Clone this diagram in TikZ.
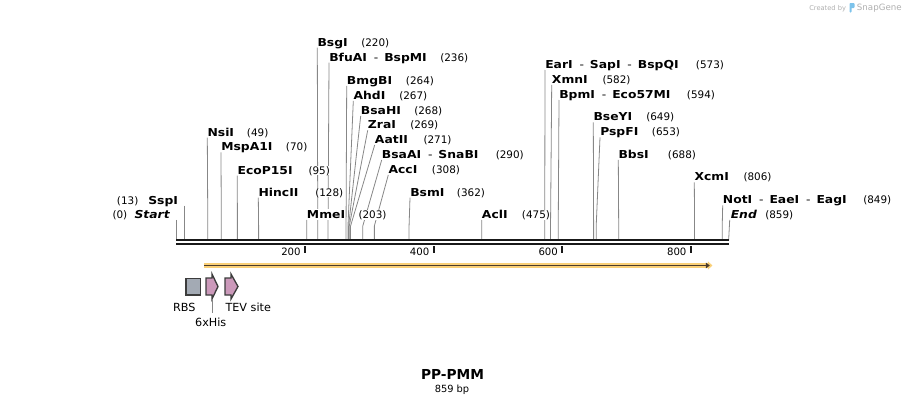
\documentclass[tikz,border=0pt]{standalone}
\usepackage{fontspec}
\setmainfont{DejaVu Sans}
\newfontfamily\enzfont{DejaVu Sans}[FakeStretch=1.13]
\usetikzlibrary{arrows.meta,backgrounds}
\definecolor{linegray}{RGB}{135,135,135}
\definecolor{orfband}{RGB}{250,208,120}
\definecolor{orfline}{RGB}{75,60,45}
\definecolor{rbsfill}{RGB}{163,170,180}
\definecolor{tagfill}{RGB}{203,153,186}
\definecolor{featedge}{RGB}{60,60,60}
\definecolor{snapblue}{RGB}{125,195,235}
\definecolor{creditgray}{RGB}{175,175,175}
\newcommand{\enzsep}{\hspace{0.62em}{\mdseries -}\hspace{0.55em}}

\begin{document}
\begin{tikzpicture}[x=0.75pt, y=-0.75pt,
    enzname/.style={font=\enzfont\bfseries\fontsize{8.2}{9}\selectfont, anchor=base west, inner xsep=0pt, inner ysep=1pt, text depth=0pt, fill=white},
    enzpos/.style={font=\fontsize{7.8}{9}\selectfont, anchor=base west, inner sep=0pt, fill=white},
    enzline/.style={draw=linegray, line width=0.6pt},
    backbone/.style={line width=1.5pt, black!90},
    scaletick/.style={line width=1.5pt, black!90},
    ticklabel/.style={font=\fontsize{7.6}{9}\selectfont, anchor=base east, inner sep=0pt},
    featlabel/.style={font=\fontsize{8.4}{10}\selectfont, inner sep=0pt},
    rbsbox/.style={draw=featedge, fill=rbsfill, line width=1pt, minimum width=11pt, minimum height=12.5pt, inner sep=0pt},
    tagarrow/.style={draw=featedge, fill=tagfill, line width=1pt, line join=miter}]
      \useasboundingbox (0,0) rectangle (906,405);

      \foreach \p in {0,13,49,70,95,128,203,220,236,264,267,268,269,271,290,308,362,475,573,582,594,649,653,688,806,849,859}
        \coordinate (c\p) at ({176.3+0.643*\p},240);
      \coordinate (bend) at (0,226);

      \draw[backbone] (c0) -- (c859);
      \draw[backbone] ([yshift=-3pt]c0) -- ([yshift=-3pt]c859);
      \foreach \t in {200,400,600,800} {
        \draw[scaletick] ({176.3+0.643*\t},246) -- ++(0,6.5);
        \node[ticklabel] (t\t) at ({176.3+0.643*\t-4},255.5) {\t};
      }

      \node[enzname, anchor=base east, font=\enzfont\bfseries\itshape\fontsize{8.2}{9}\selectfont] (start) at (170,218.3) {Start};
      \node[enzpos] (startpos) at (112.3,218.3) {(0)};
      \node[enzname, anchor=base east] (sspI) at (178.3,204) {SspI};
      \node[enzpos] (sspIpos) at (116.7,204) {(13)};
      \node[enzname] (nsiI) at (207.3,136) {NsiI};
      \node[enzpos] (nsiIpos) at (246.7,136) {(49)};
      \node[enzname] (mspA1I) at (221,150.7) {MspA1I};
      \node[enzpos] (mspA1Ipos) at (285.7,150.7) {(70)};
      \node[enzname] (ecoP15I) at (237.3,174) {EcoP15I};
      \node[enzpos] (ecoP15Ipos) at (308.3,174) {(95)};
      \node[enzname] (hincII) at (258.3,196) {HincII};
      \node[enzpos] (hincIIpos) at (315,196) {(128)};
      \node[enzname] (mmeI) at (306.7,218.3) {MmeI};
      \node[enzpos] (mmeIpos) at (358.3,218.3) {(203)};
      \node[enzname] (bsgI) at (317.3,46) {BsgI};
      \node[enzpos] (bsgIpos) at (361,46) {(220)};
      \node[enzname] (bfuAI) at (329,61) {BfuAI\enzsep BspMI};
      \node[enzpos] (bfuAIpos) at (440,61) {(236)};
      \node[enzname] (bmgBI) at (346.7,84.3) {BmgBI};
      \node[enzpos] (bmgBIpos) at (405.7,84.3) {(264)};
      \node[enzname] (ahdI) at (353.3,99.3) {AhdI};
      \node[enzpos] (ahdIpos) at (399,99.3) {(267)};
      \node[enzname] (bsaHI) at (360.7,114.3) {BsaHI};
      \node[enzpos] (bsaHIpos) at (414,114.3) {(268)};
      \node[enzname] (zraI) at (367.7,128.7) {ZraI};
      \node[enzpos] (zraIpos) at (410,128.7) {(269)};
      \node[enzname] (aatII) at (374.7,143.3) {AatII};
      \node[enzpos] (aatIIpos) at (423.3,143.3) {(271)};
      \node[enzname] (bsaAI) at (381.7,158.3) {BsaAI\enzsep SnaBI};
      \node[enzpos] (bsaAIpos) at (495.5,158.3) {(290)};
      \node[enzname] (accI) at (388.3,173.3) {AccI};
      \node[enzpos] (accIpos) at (431.7,173.3) {(308)};
      \node[enzname] (bsmI) at (410,196) {BsmI};
      \node[enzpos] (bsmIpos) at (456.7,196) {(362)};
      \node[enzname] (aclI) at (481.7,218.3) {AclI};
      \node[enzpos] (aclIpos) at (521.7,218.3) {(475)};
      \node[enzname] (earI) at (545,68.3) {EarI\enzsep SapI\enzsep BspQI};
      \node[enzpos] (earIpos) at (695.7,68.3) {(573)};
      \node[enzname] (xmnI) at (551.7,83.3) {XmnI};
      \node[enzpos] (xmnIpos) at (602.3,83.3) {(582)};
      \node[enzname] (bpmI) at (559,98.3) {BpmI\enzsep Eco57MI};
      \node[enzpos] (bpmIpos) at (686.7,98.3) {(594)};
      \node[enzname] (bseYI) at (593.3,120.7) {BseYI};
      \node[enzpos] (bseYIpos) at (646,120.7) {(649)};
      \node[enzname] (pspFI) at (600,135.7) {PspFI};
      \node[enzpos] (pspFIpos) at (651.7,135.7) {(653)};
      \node[enzname] (bbsI) at (618.3,158.3) {BbsI};
      \node[enzpos] (bbsIpos) at (667.7,158.3) {(688)};
      \node[enzname] (xcmI) at (694.3,180.7) {XcmI};
      \node[enzpos] (xcmIpos) at (743.3,180.7) {(806)};
      \node[enzname] (notI) at (722.7,203.7) {NotI\enzsep EaeI\enzsep EagI};
      \node[enzpos] (notIpos) at (863,203.7) {(849)};
      \node[enzname, font=\enzfont\bfseries\itshape\fontsize{8.2}{9}\selectfont] (end) at (730.5,218.3) {End};
      \node[enzpos] (endpos) at (765,218.3) {(859)};

      \begin{scope}[on background layer]
      \draw[enzline] (c0 |- start.south) -- (c0);
      \draw[enzline] (c13 |- sspI.south) -- (c13);
      \draw[enzline] (nsiI.south west) -- (c49 |- bend) -- (c49);
      \draw[enzline] (mspA1I.south west) -- (c70 |- bend) -- (c70);
      \draw[enzline] (ecoP15I.south west) -- (c95 |- bend) -- (c95);
      \draw[enzline] (hincII.south west) -- (c128 |- bend) -- (c128);
      \draw[enzline] (mmeI.south west) -- (c203 |- bend) -- (c203);
      \draw[enzline] (bsgI.south west) -- (c220 |- bend) -- (c220);
      \draw[enzline] (bfuAI.south west) -- (c236 |- bend) -- (c236);
      \draw[enzline] (bmgBI.south west) -- (c264 |- bend) -- (c264);
      \draw[enzline] (ahdI.south west) -- (c267 |- bend) -- (c267);
      \draw[enzline] (bsaHI.south west) -- (c268 |- bend) -- (c268);
      \draw[enzline] (zraI.south west) -- (c269 |- bend) -- (c269);
      \draw[enzline] (aatII.south west) -- (c271 |- bend) -- (c271);
      \draw[enzline] (bsaAI.south west) -- (c290 |- bend) -- (c290);
      \draw[enzline] (accI.south west) -- (c308 |- bend) -- (c308);
      \draw[enzline] (bsmI.south west) -- (c362 |- bend) -- (c362);
      \draw[enzline] (aclI.south west) -- (c475 |- bend) -- (c475);
      \draw[enzline] (earI.south west) -- (c573 |- bend) -- (c573);
      \draw[enzline] (xmnI.south west) -- (c582 |- bend) -- (c582);
      \draw[enzline] (bpmI.south west) -- (c594 |- bend) -- (c594);
      \draw[enzline] (bseYI.south west) -- (c649 |- bend) -- (c649);
      \draw[enzline] (pspFI.south west) -- (c653 |- bend) -- (c653);
      \draw[enzline] (bbsI.south west) -- (c688 |- bend) -- (c688);
      \draw[enzline] (xcmI.south west) -- (c806 |- bend) -- (c806);
      \draw[enzline] (notI.south west) -- (c849 |- bend) -- (c849);
      \draw[enzline] ([xshift=-0.6pt]end.south west) -- (c859);
      \end{scope}

      \coordinate (orfs) at (204,265.5);
      \coordinate (orfe) at (712.5,265.5);
      \draw[orfband, line width=4.2pt, -{Triangle[length=3.5pt, width=6pt]}] (orfs) -- (orfe);
      \draw[orfline, line width=1.4pt, -{Triangle[length=3pt, width=4.2pt]}] (orfs) -- ([xshift=-2pt]orfe);

      \node[rbsbox] (rbs) at (193.3,286.5) {};
      \draw[tagarrow] (206,278) -- (212,278) -- (212,274) -- (218,286.5) -- (212,299) -- (212,295) -- (206,295) -- cycle;
      \draw[tagarrow] (225,278) -- (231,278) -- (231,274) -- (238,286.5) -- (231,299) -- (231,295) -- (225,295) -- cycle;
      \coordinate (his) at (212,298.5);

      \node[featlabel, anchor=base] (rbslab) at (184.2,311) {RBS};
      \node[featlabel, anchor=base west] (tevlab) at (225.3,311) {TEV site};
      \node[featlabel, anchor=base] (hislab) at (210.7,326.7) {6xHis};
      \draw[enzline] (his) -- ++(0,14.5);

      \node[font=\bfseries\fontsize{10.3}{12}\selectfont, anchor=base, inner sep=0pt] (title) at (452.5,379.3) {PP-PMM};
      \node[font=\fontsize{7.4}{9}\selectfont, anchor=base, inner sep=0pt] (length) at (452,392.3) {859 bp};

      \node[font=\fontsize{5}{6}\selectfont, text=creditgray, anchor=base west, inner sep=0pt] (created) at (809,10.3) {Created by};
      \fill[snapblue, rounded corners=0.6pt] (849.5,3) rectangle (854.5,8) (849.5,3) rectangle (851.5,12.5);
      \node[font=\fontsize{6.5}{7}\selectfont, text=creditgray, anchor=base west, inner sep=0pt] (snapgene) at (856.7,10.5) {SnapGene};
    \end{tikzpicture}
\end{document}
